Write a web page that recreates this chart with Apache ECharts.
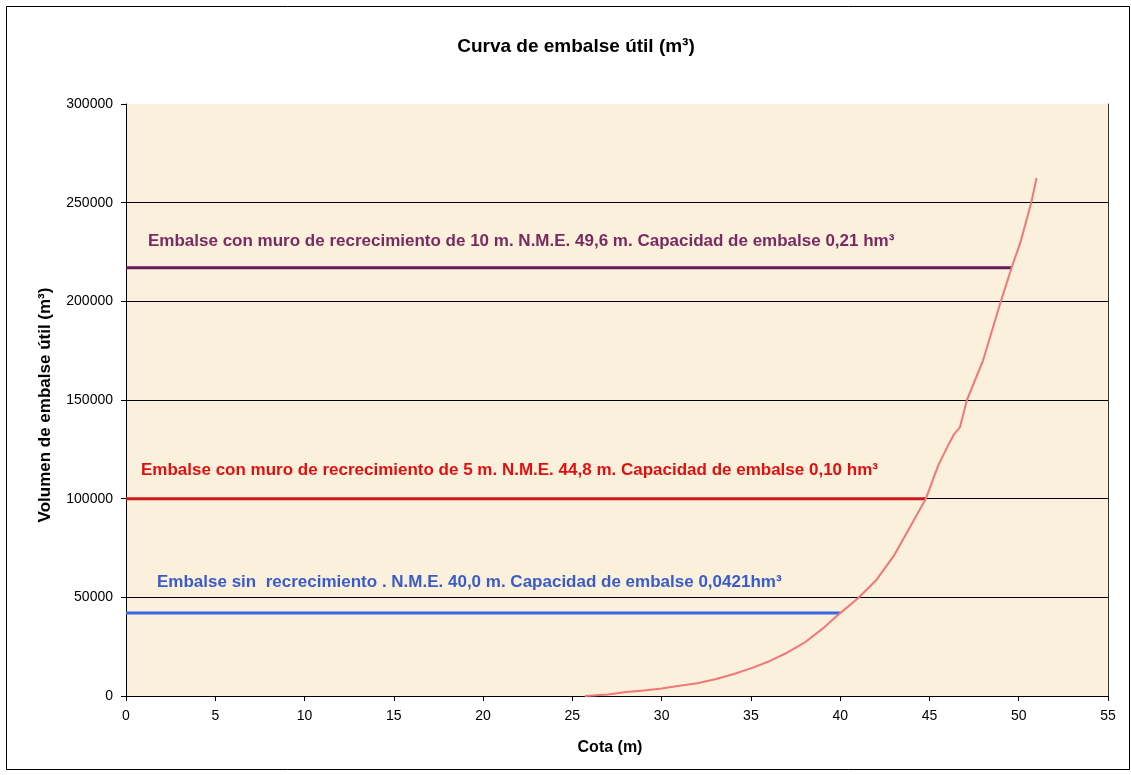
<!DOCTYPE html>
<html>
<head>
<meta charset="utf-8">
<script src="https://cdn.jsdelivr.net/npm/echarts@6/dist/echarts.min.js"></script>
<style>
html,body{margin:0;padding:0;background:#fff;}
#chart{width:1131px;height:775px;}
</style>
</head>
<body>
<div id="chart"></div>
<script>
// ---- data ----
var titleText = 'Curva de embalse útil (m³)';
var xAxisName = 'Cota (m)';
var yAxisName = 'Volumen de embalse útil (m³)';
var xTicks = [0, 55, 5];          // min, max, interval
var yTicks = [0, 300000, 50000];  // min, max, interval

var curveCota = [25.7, 27, 28, 29, 30, 31, 32, 33, 34, 35, 36, 37, 38, 39, 40, 41, 42, 43, 44, 44.8, 45.5, 46.1, 46.4, 46.7, 47.1, 48, 49, 49.6, 50.1, 50.7, 51];
var curveVol  = [0, 800, 2000, 2800, 3800, 5200, 6500, 8500, 11000, 14000, 17500, 21800, 27000, 34000, 42000, 49500, 58500, 71000, 87000, 100000, 117000, 128000, 133000, 136000, 150000, 170000, 200000, 217000, 230000, 250000, 262500];

var levelNames = [
  'Embalse con muro de recrecimiento de 10 m. N.M.E. 49,6 m. Capacidad de embalse 0,21 hm³',
  'Embalse con muro de recrecimiento de 5 m. N.M.E. 44,8 m. Capacidad de embalse 0,10 hm³',
  'Embalse sin  recrecimiento . N.M.E. 40,0 m. Capacidad de embalse 0,0421hm³'
];
var levelVol  = [217000, 100000, 42100];
var levelCota = [49.6, 44.8, 40.0];

// ---- styles ----
var FONT = 'Liberation Sans, Arial, sans-serif';
var levelLineColors = ['#661a5e', '#d01818', '#3a66e8'];
var levelTextColors = ['#7a2a62', '#e01010', '#3a5cc8'];
var levelLabelOffsets = [[22, -26], [15, -28], [31, -31]];

var series = [{
  type: 'line',
  data: curveCota.map(function (c, i) { return [c, curveVol[i]]; }),
  showSymbol: false,
  symbol: 'none',
  lineStyle: { color: '#f07878', width: 2 },
  z: 5
}];
levelVol.forEach(function (v, i) {
  series.push({
    type: 'line',
    data: [[0, v], [levelCota[i], v]],
    symbol: 'none',
    lineStyle: { color: levelLineColors[i], width: 3 },
    z: 4,
    markPoint: {
      symbol: 'circle', symbolSize: 0,
      data: [{ coord: [0, v] }],
      label: {
        show: true,
        formatter: levelNames[i],
        position: 'inside',
        align: 'left',
        verticalAlign: 'middle',
        offset: levelLabelOffsets[i],
        color: levelTextColors[i],
        fontFamily: FONT,
        fontWeight: 'bold',
        fontSize: 17
      }
    }
  });
});

var chart = echarts.init(document.getElementById('chart'), null, { renderer: 'canvas' });
chart.setOption({
  animation: false,
  backgroundColor: '#ffffff',
  textStyle: { fontFamily: FONT },
  title: {
    text: titleText,
    left: 571, top: 32,
    textAlign: 'center',
    textStyle: { fontSize: 19, fontWeight: 'bold', color: '#000', fontFamily: FONT }
  },
  graphic: [{
    type: 'rect',
    shape: { x: 6.5, y: 6.5, width: 1123, height: 763 },
    style: { fill: 'none', stroke: '#000', lineWidth: 1 },
    silent: true, z: -1
  }],
  grid: {
    left: 126, right: 23, top: 104, bottom: 79,
    show: true, backgroundColor: '#faf0dc', borderWidth: 0
  },
  xAxis: {
    type: 'value',
    min: xTicks[0], max: xTicks[1], interval: xTicks[2],
    name: xAxisName,
    nameLocation: 'middle',
    nameGap: 44,
    nameTextStyle: { fontSize: 16, fontWeight: 'bold', color: '#000', padding: [0, 0, 0, -14] },
    axisLine: { show: true, onZero: false, lineStyle: { color: '#000', width: 1 } },
    axisTick: { show: true, length: 5, lineStyle: { color: '#000' } },
    axisLabel: { fontSize: 14, color: '#000', margin: 13 },
    splitLine: { show: false }
  },
  yAxis: [{
    type: 'value',
    min: yTicks[0], max: yTicks[1], interval: yTicks[2],
    name: yAxisName,
    nameLocation: 'middle',
    nameGap: 72,
    nameTextStyle: { fontSize: 17, fontWeight: 'bold', color: '#000', padding: [0, 10, 0, 0] },
    axisLine: { show: true, lineStyle: { color: '#000', width: 1 } },
    axisTick: { show: true, length: 5, lineStyle: { color: '#000' } },
    axisLabel: { fontSize: 14, color: '#000', margin: 13, formatter: function (v) { return String(v); } },
    splitLine: { show: true, lineStyle: { color: ['#000', '#000', '#000', '#000', '#000', '#000', 'rgba(0,0,0,0)'], width: 1 } }
  }, {
    type: 'value',
    position: 'right',
    min: yTicks[0], max: yTicks[1], interval: yTicks[2],
    axisLine: { show: true, lineStyle: { color: '#333', width: 1 } },
    axisTick: { show: false },
    axisLabel: { show: false },
    splitLine: { show: false }
  }],
  series: series
});
</script>
</body>
</html>
